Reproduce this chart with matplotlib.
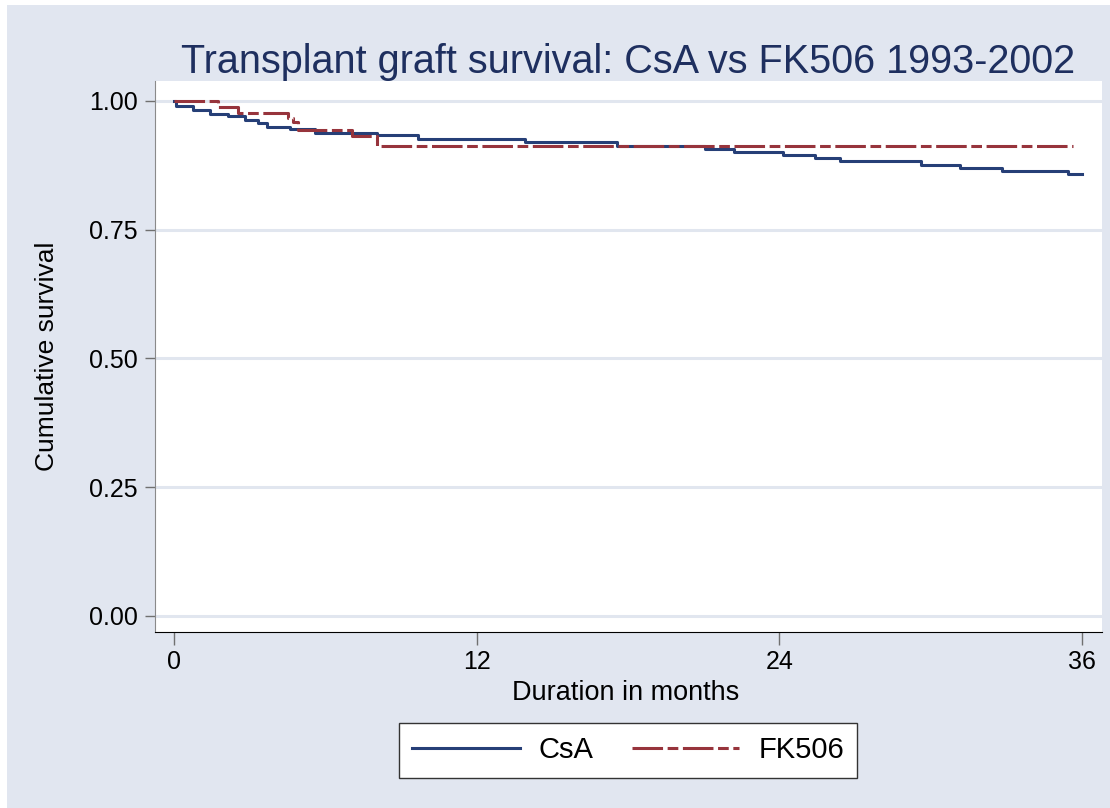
import numpy as np
import matplotlib
matplotlib.use("Agg")
import matplotlib.pyplot as plt
from matplotlib.patches import Rectangle

plt.rcParams['font.family'] = ['Liberation Sans', 'DejaVu Sans']

# Kaplan-Meier step estimates (months, survival)
csa_time = [0, 0.08, 0.77, 1.43, 2.15, 2.82, 3.34, 3.68, 4.60, 5.59, 8.04, 9.69,
            13.92, 17.55, 21.05, 22.21, 24.14, 25.42, 26.41, 29.62, 31.17, 32.82,
            35.46, 36.0]
csa_surv = [1.0, 0.990, 0.983, 0.975, 0.970, 0.963, 0.957, 0.950, 0.945, 0.938,
            0.934, 0.926, 0.920, 0.913, 0.907, 0.901, 0.895, 0.889, 0.883, 0.876,
            0.870, 0.864, 0.858, 0.858]

fk_time = [0, 1.76, 2.55, 4.53, 4.73, 4.93, 7.05, 8.04, 35.66]
fk_surv = [1.0, 0.989, 0.976, 0.966, 0.959, 0.944, 0.932, 0.913, 0.913]

x_ticks = [0, 12, 24, 36]
y_ticks = [0.00, 0.25, 0.50, 0.75, 1.00]

navy = '#263F77'
maroon = '#97343C'
region = '#E1E6F0'

W, H = 1110, 808
fig = plt.figure(figsize=(W / 100, H / 100), dpi=100)
fig.patch.set_facecolor('white')
fig.add_artist(Rectangle((7 / W, 0), 1, 1 - 5 / H, transform=fig.transFigure,
                         facecolor=region, edgecolor='none', zorder=-1))

ax = fig.add_axes([155 / W, 1 - 632.3 / H, (1101.7 - 155) / W, (632.3 - 81) / H])
ax.set_facecolor('white')

for yt in y_ticks:
    ax.axhline(yt, color='#E1E6EF', lw=2.2, zorder=1)

ax.step(csa_time, csa_surv, where='post', color=navy, lw=2.2, label='CsA', zorder=3)
ax.step(fk_time, fk_surv, where='post', color=maroon, lw=2.2, label='FK506',
        dashes=(10, 1.5, 3.5, 1.5), zorder=3)

ax.set_xlim(-0.753, 36.78)
ax.set_ylim(-0.0317, 1.0388)
ax.set_xticks(x_ticks)
ax.set_yticks(y_ticks)
ax.set_yticklabels(['%.2f' % v for v in y_ticks])

for s in ['top', 'right']:
    ax.spines[s].set_visible(False)
ax.spines['left'].set_color('#8A8A8A')
ax.spines['bottom'].set_color('black')
ax.tick_params(axis='y', length=7.2, width=1, color='#707070', pad=5, labelsize=18)
ax.tick_params(axis='x', length=9.4, width=1, color='#707070', pad=3.6, labelsize=18)

ax.set_title('Transplant graft survival: CsA vs FK506 1993-2002',
             fontsize=28.5, color='#1E2F5F', pad=6)
fig.text(47 / W, 0.5 * ((1 - 632.3 / H) + (1 - 81 / H)), 'Cumulative survival',
         rotation=90, ha='center', va='center', fontsize=19)
fig.text(626 / W, 1 - 693 / H, 'Duration in months', ha='center', va='center',
         fontsize=19.5)

leg = fig.legend(loc='center', bbox_to_anchor=(628 / W, 1 - 750.5 / H), ncol=2,
                 fontsize=21, handlelength=3.7, handletextpad=0.65,
                 columnspacing=1.3, fancybox=False, framealpha=1,
                 borderpad=0.45, borderaxespad=0)
leg.get_frame().set_edgecolor('#333333')
leg.get_frame().set_linewidth(1)

fig.savefig('out.png', dpi=100, facecolor=fig.get_facecolor())
